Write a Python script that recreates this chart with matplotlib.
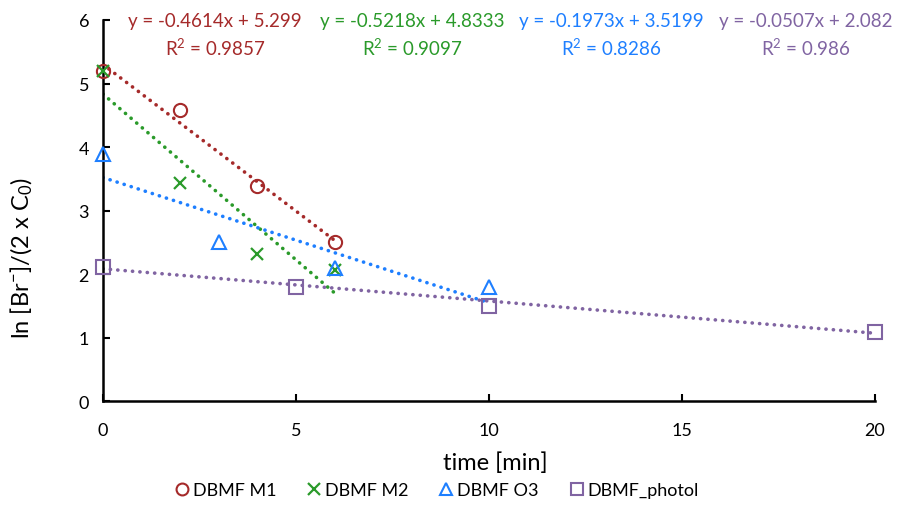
import matplotlib
matplotlib.use("Agg")
import matplotlib.pyplot as plt
import numpy as np

plt.rcParams['font.family'] = ['Lato', 'DejaVu Sans']
plt.rcParams['mathtext.fontset'] = 'custom'
plt.rcParams['mathtext.rm'] = 'Lato'
plt.rcParams['mathtext.it'] = 'Lato'

# Data
m1_x = [0, 2, 4, 6]
m1_y = [5.19, 4.58, 3.38, 2.51]
m2_x = [0, 2, 4, 6]
m2_y = [5.19, 3.44, 2.32, 2.07]
o3_x = [0, 3, 6, 10]
o3_y = [3.89, 2.50, 2.09, 1.79]
ph_x = [0, 5, 10, 20]
ph_y = [2.11, 1.80, 1.50, 1.09]

names = ['DBMF M1', 'DBMF M2', 'DBMF O3', 'DBMF_photol']
slopes = [-0.4614, -0.5218, -0.1973, -0.0507]
intercepts = [5.299, 4.8333, 3.5199, 2.082]
r2_labels = ['0.9857', '0.9097', '0.8286', '0.986']
eq_labels = ['y = -0.4614x + 5.299', 'y = -0.5218x + 4.8333',
             'y = -0.1973x + 3.5199', 'y = -0.0507x + 2.082']

colors = ['#A52A2A', '#2A9A2A', '#1E7FFF', '#8064A2']
markers = ['o', 'x', '^', 's']

fig = plt.figure(figsize=(9, 5.06), dpi=100)
ax = fig.add_axes([0.1144, 0.2055, 0.8576, 0.753])

series = [(m1_x, m1_y), (m2_x, m2_y), (o3_x, o3_y), (ph_x, ph_y)]
for (xs, ys), name, c, m, k, b in zip(series, names, colors, markers, slopes, intercepts):
    if m == 'x':
        ax.plot(xs, ys, linestyle='none', marker=m, markersize=9, markeredgewidth=1.6,
                color=c, label=name, clip_on=False, zorder=3)
    else:
        ax.plot(xs, ys, linestyle='none', marker=m, markersize=9.5, markeredgewidth=1.5,
                markerfacecolor='none', markeredgecolor=c, label=name, clip_on=False, zorder=3)
    tx = np.array([min(xs), max(xs)])
    ax.plot(tx, k * tx + b, linestyle=(0, (0.05, 2.0)), linewidth=2.6, color=c, zorder=2,
            dash_capstyle='round')

ax.set_xlim(0, 20)
ax.set_ylim(0, 6)
ax.set_xticks([0, 5, 10, 15, 20])
ax.set_yticks([0, 1, 2, 3, 4, 5, 6])
ax.tick_params(direction='in', length=5, width=1.5, labelsize=13, colors='black')
ax.tick_params(axis='x', pad=15)
ax.tick_params(axis='y', pad=10)
for s in ['top', 'right']:
    ax.spines[s].set_visible(False)
for s in ['left', 'bottom']:
    ax.spines[s].set_linewidth(1.8)
    ax.spines[s].set_color('black')

ax.set_xlabel('time [min]', fontsize=17, va='center', ha='center')
ax.xaxis.set_label_coords(0.5 + 6 / 772, -61 / 380)
ax.set_ylabel(r'ln [Br$^{-}$]/(2 x C$_0$)', fontsize=17, va='center', ha='center')
ax.yaxis.set_label_coords(-81 / 772, (401 - 258) / 380)

# trendline equations
eq_x = [215, 412, 611, 806]
for lbl, r2, c, xp in zip(eq_labels, r2_labels, colors, eq_x):
    fig.text(xp / 900, 1 - 22 / 506, lbl, color=c, fontsize=13.5, ha='center', va='center')
    fig.text(xp / 900, 1 - 48 / 506, 'R$^2$ = ' + r2, color=c, fontsize=13.5, ha='center', va='center')

leg = fig.legend(loc='center', bbox_to_anchor=(435 / 900, 1 - 491 / 506), ncol=4, frameon=False,
                 fontsize=13, handletextpad=0.0, columnspacing=1.5, markerscale=0.9,
                 handlelength=1.2)

fig.savefig('out.png', dpi=100)
